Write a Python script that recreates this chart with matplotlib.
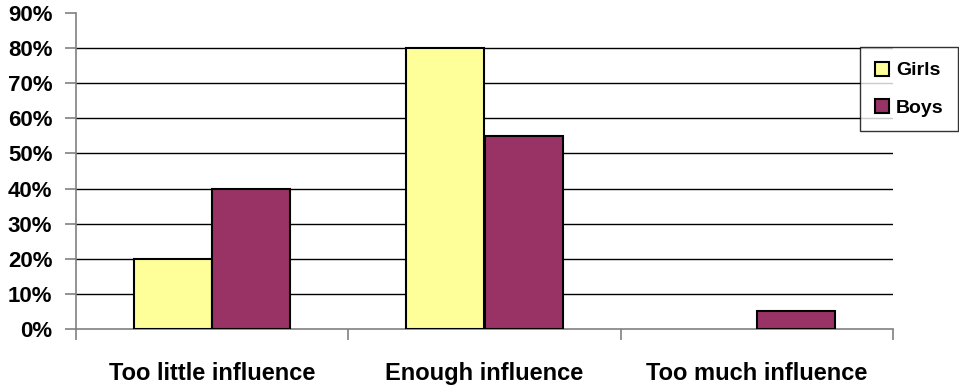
import matplotlib.pyplot as plt
import numpy as np
from matplotlib.ticker import MultipleLocator, FuncFormatter

plt.rcParams['font.family'] = ['Liberation Sans', 'DejaVu Sans']
plt.rcParams['font.weight'] = 'bold'

# survey answers by group
categories = ['Too little influence', 'Enough influence', 'Too much influence']
girls = [20, 80, 0]
boys = [40, 55, 5]

fig = plt.figure(figsize=(9.59, 3.85), dpi=100)
ax = fig.add_axes([76 / 959, 1 - 329 / 385, (893 - 76) / 959, (329 - 13) / 385])

x = np.arange(len(categories))
w = 0.287
gb = ax.bar(x - w / 2, girls, w, color='#FFFF99', edgecolor='black', linewidth=1.5, label='Girls', zorder=3)
bb = ax.bar(x + w / 2, boys, w, color='#993366', edgecolor='black', linewidth=1.5, label='Boys', zorder=3)
# empty bars draw nothing
for bars, vals in ((gb, girls), (bb, boys)):
    for r, v in zip(bars, vals):
        if v == 0:
            r.set_visible(False)

ax.set_xlim(-0.5, 2.5)
ax.set_ylim(0, 90)
ax.yaxis.set_major_locator(MultipleLocator(10))
ax.yaxis.set_major_formatter(FuncFormatter(lambda v, p: f'{int(v)}%'))
for v in range(10, 90, 10):
    ax.axhline(v, color='black', linewidth=1, zorder=1)

ax.set_xticks([-0.5, 0.5, 1.5, 2.5])
ax.set_xticklabels([])
ax.set_xticks(x, minor=True)
ax.set_xticklabels(categories, minor=True, fontsize=17, fontweight='bold')
ax.tick_params(axis='x', which='minor', length=0, pad=24)
ax.tick_params(axis='x', which='major', length=8, width=1.2, color='#808080', direction='out')
ax.tick_params(axis='y', length=8, width=1.2, color='#808080', direction='out', labelsize=16, pad=9)
for t in ax.get_yticklabels():
    t.set_fontweight('bold')

for s in ['top', 'right']:
    ax.spines[s].set_visible(False)
for s in ['left', 'bottom']:
    ax.spines[s].set_color('#808080')
    ax.spines[s].set_linewidth(1.2)

leg = ax.legend(loc='upper left', bbox_to_anchor=(860 / 959, 1 - 47 / 385), bbox_transform=fig.transFigure,
                frameon=True, fancybox=False, edgecolor='black',
                prop={'size': 14, 'weight': 'bold'},
                handlelength=0.75, handleheight=0.75, handletextpad=0.35, labelspacing=1.0,
                borderpad=0.75, borderaxespad=0)
leg.get_frame().set_linewidth(1.0)
leg.set_zorder(5)

fig.savefig('out.png', dpi=100)
